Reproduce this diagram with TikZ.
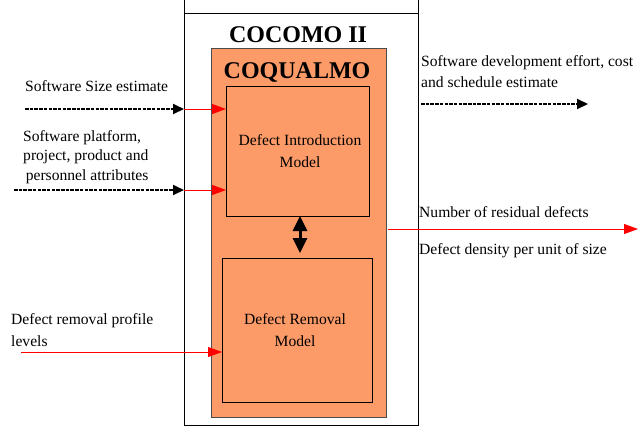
\documentclass[tikz,border=0pt]{standalone}
\usepackage{fontspec}
\setmainfont{Liberation Serif}
\usetikzlibrary{arrows.meta}
\definecolor{coq}{RGB}{252,154,104}
\tikzset{
  lbl/.style={font=\fontsize{15.6}{18}\selectfont, inner sep=0pt, anchor=west, align=left},
  boxlbl/.style={font=\fontsize{15.6}{22}\selectfont, align=center},
  dasharrow/.style={line width=2pt, dash pattern=on 3.5pt off 1.2pt, -{Triangle[length=11pt,width=10pt]}},
  redarrow/.style={red, line width=0.9pt, -{Triangle[length=14pt,width=10pt]}},
  modelbox/.style={draw=black, line width=0.9pt, fill=coq},
}
\begin{document}
\begin{tikzpicture}[x=1pt,y=-1pt]
\useasboundingbox (0,0) rectangle (639,426);
% outer COCOMO II frame
\draw[line width=0.8pt] (184,0) -- (184,425) -- (418,425) -- (418,0);
\draw[line width=0.8pt] (184,13) -- (418,13);
\node[font=\bfseries\fontsize{24}{26}\selectfont] (cocomo) at (298,35) {COCOMO II};
% COQUALMO box
\draw[draw=black!70, line width=0.8pt, fill=coq] (211,48) rectangle (386,417);
\node[font=\bfseries\fontsize{24}{26}\selectfont] (coqualmo) at (297,72) {COQUALMO};
% model boxes
\draw[modelbox] (226,86) rectangle (369,216);
\node[boxlbl] (dim) at (300,151) {Defect Introduction\\Model};
\draw[modelbox] (222,258) rectangle (372,402);
\node[boxlbl] (drm) at (295,330) {Defect Removal\\Model};
\coordinate (dimbot) at (300,216);
\coordinate (drmtop) at (300,253);
\draw[line width=3pt, {Triangle[length=15pt,width=14pt]}-{Triangle[length=15pt,width=14pt]}] (dimbot) -- (drmtop);
% left inputs
\node[lbl] (sse) at (25,86) {Software Size estimate};
\coordinate (a1s) at (25,109); \coordinate (a1m) at (184,109); \coordinate (a1e) at (226,109);
\draw[dasharrow] (a1s) -- (a1m);
\draw[redarrow] (a1m) -- (a1e);
\node[lbl, font=\fontsize{15.6}{19.5}\selectfont] (spp) at (23,157) {Software platform,\\project, product and\\\,personnel attributes};
\coordinate (a2s) at (14,190); \coordinate (a2m) at (184,190); \coordinate (a2e) at (226,190);
\draw[dasharrow] (a2s) -- (a2m);
\draw[redarrow] (a2m) -- (a2e);
\node[lbl, font=\fontsize{15.6}{22}\selectfont] (drp) at (11,330) {Defect removal profile\\levels};
\coordinate (a3s) at (21,352); \coordinate (a3e) at (222,352);
\draw[redarrow] (a3s) -- (a3e);
% right outputs
\node[lbl, font=\fontsize{15.6}{21}\selectfont] (sde) at (421,72) {Software development effort, cost\\and schedule estimate};
\coordinate (a4s) at (421,104); \coordinate (a4e) at (588,104);
\draw[dasharrow] (a4s) -- (a4e);
\node[lbl] (nrd) at (419,212) {Number of residual defects};
\coordinate (a5s) at (388,229); \coordinate (a5e) at (638,229);
\draw[redarrow] (a5s) -- (a5e);
\node[lbl] (dd) at (419,251) {Defect density per unit of size};
\end{tikzpicture}
\end{document}
